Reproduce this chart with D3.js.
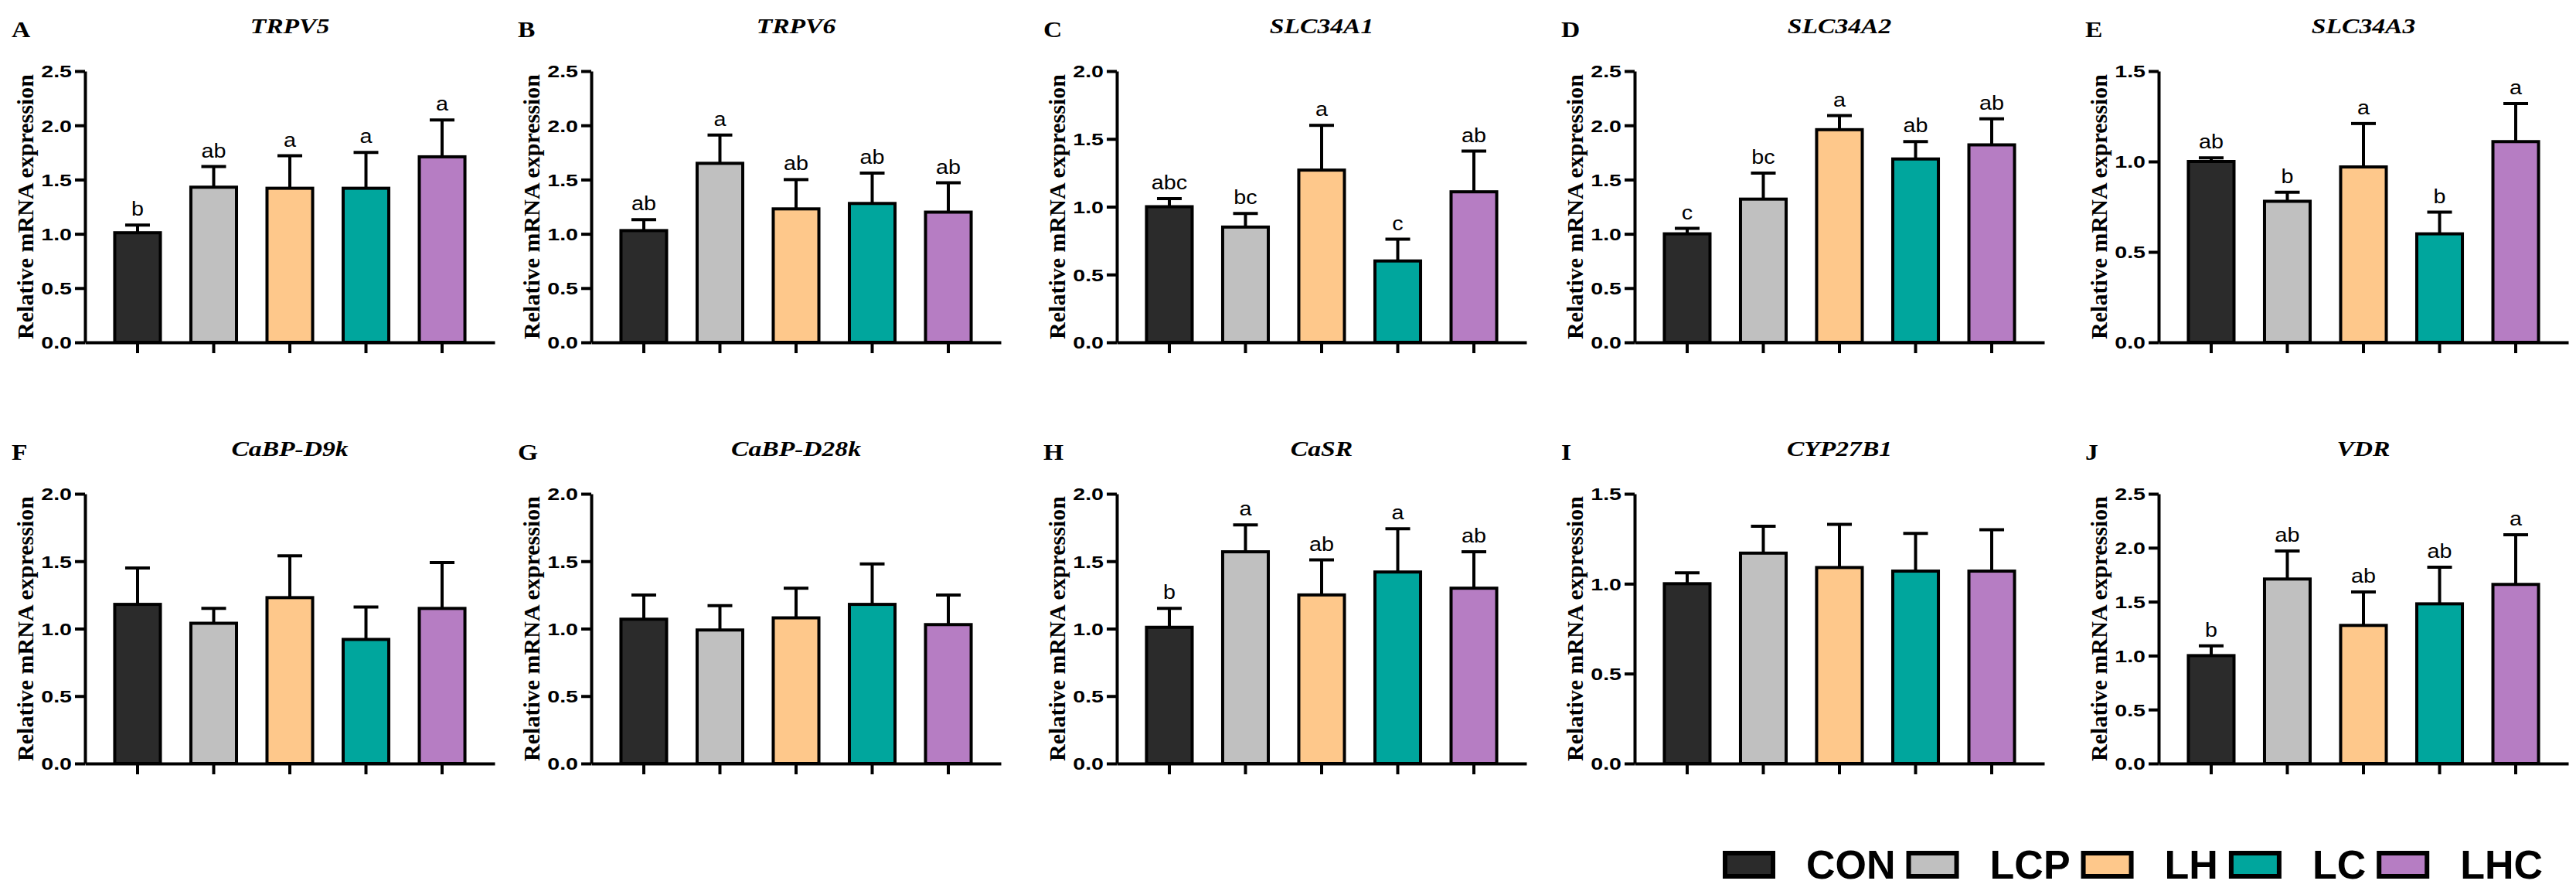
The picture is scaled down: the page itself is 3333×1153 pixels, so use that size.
<!DOCTYPE html>
<html><head><meta charset="utf-8">
<script src="https://cdn.jsdelivr.net/npm/d3@7"></script>
<style>html,body{margin:0;padding:0;background:#fff;}svg{display:block;}</style>
</head><body>
<script>
// ---------- data ----------
const groups = ["CON", "LCP", "LH", "LC", "LHC"];
const groupColors = ["#2b2b2b", "#c0c0c0", "#fec88b", "#00a69d", "#b67dc3"];
const panelLetters = ["A","B","C","D","E","F","G","H","I","J"];
const genes = ["TRPV5","TRPV6","SLC34A1","SLC34A2","SLC34A3","CaBP-D9k","CaBP-D28k","CaSR","CYP27B1","VDR"];
const yMax = [2.5, 2.5, 2.0, 2.5, 1.5, 2.0, 2.0, 2.0, 1.5, 2.5];
const yTickStep = 0.5;

const meanTRPV5   = [1.01, 1.43, 1.42, 1.42, 1.71];
const errTRPV5    = [0.07, 0.19, 0.30, 0.33, 0.34];
const meanTRPV6   = [1.03, 1.65, 1.23, 1.28, 1.20];
const errTRPV6    = [0.10, 0.26, 0.27, 0.28, 0.27];
const meanSLC34A1 = [1.00, 0.85, 1.27, 0.60, 1.11];
const errSLC34A1  = [0.06, 0.10, 0.33, 0.16, 0.30];
const meanSLC34A2 = [1.00, 1.32, 1.96, 1.69, 1.82];
const errSLC34A2  = [0.05, 0.24, 0.13, 0.16, 0.24];
const meanSLC34A3 = [1.00, 0.78, 0.97, 0.60, 1.11];
const errSLC34A3  = [0.02, 0.05, 0.24, 0.12, 0.21];
const meanCaBPD9k = [1.18, 1.04, 1.23, 0.92, 1.15];
const errCaBPD9k  = [0.27, 0.11, 0.31, 0.24, 0.34];
const meanCaBPD28k= [1.07, 0.99, 1.08, 1.18, 1.03];
const errCaBPD28k = [0.18, 0.18, 0.22, 0.30, 0.22];
const meanCaSR    = [1.01, 1.57, 1.25, 1.42, 1.30];
const errCaSR     = [0.14, 0.20, 0.26, 0.32, 0.27];
const meanCYP27B1 = [1.00, 1.17, 1.09, 1.07, 1.07];
const errCYP27B1  = [0.06, 0.15, 0.24, 0.21, 0.23];
const meanVDR     = [1.00, 1.71, 1.28, 1.48, 1.66];
const errVDR      = [0.09, 0.26, 0.31, 0.34, 0.46];

const sigTRPV5   = ["b","ab","a","a","a"];
const sigTRPV6   = ["ab","a","ab","ab","ab"];
const sigSLC34A1 = ["abc","bc","a","c","ab"];
const sigSLC34A2 = ["c","bc","a","ab","ab"];
const sigSLC34A3 = ["ab","b","a","b","a"];
const sigCaBPD9k = [];
const sigCaBPD28k= [];
const sigCaSR    = ["b","a","ab","a","ab"];
const sigCYP27B1 = [];
const sigVDR     = ["b","ab","ab","ab","a"];

const means = [meanTRPV5, meanTRPV6, meanSLC34A1, meanSLC34A2, meanSLC34A3, meanCaBPD9k, meanCaBPD28k, meanCaSR, meanCYP27B1, meanVDR];
const errs  = [errTRPV5, errTRPV6, errSLC34A1, errSLC34A2, errSLC34A3, errCaBPD9k, errCaBPD28k, errCaSR, errCYP27B1, errVDR];
const sigs  = [sigTRPV5, sigTRPV6, sigSLC34A1, sigSLC34A2, sigSLC34A3, sigCaBPD9k, sigCaBPD28k, sigCaSR, sigCYP27B1, sigVDR];
const yLabel = "Relative mRNA expression";

// ---------- layout ----------
const W = 3333, H = 1153;
const colX = [110, 765, 1445, 2115, 2793];   // y-axis x for each column
const rowTop = [92, 639], rowBottom = [443, 988];
const axisLen = 530;
const SERIF = "'Liberation Serif','Times New Roman',serif";
const SANS = "'Liberation Sans',Arial,Helvetica,sans-serif";

const svg = d3.select("body").append("svg").attr("width", W).attr("height", H);

function stretchedText(parent, x, y, txt, opts) {
  const g = parent.append("g").attr("transform", `translate(${x},${y}) scale(${opts.sx||1},1)`);
  return g.append("text").attr("x", 0).attr("y", 0)
    .attr("text-anchor", opts.anchor || "start")
    .attr("font-family", opts.family).attr("font-size", opts.size)
    .attr("font-weight", opts.weight || "normal")
    .attr("font-style", opts.style || "normal")
    .attr("dy", opts.dy || 0)
    .attr("fill", "#000").text(txt);
}

genes.forEach((gene, i) => {
  const row = Math.floor(i / 5), col = i % 5;
  const ax = colX[col];
  const top = rowTop[row], bot = rowBottom[row];
  const g = svg.append("g");

  const x = d3.scaleBand().domain(groups).range([ax, ax + axisLen]).paddingInner(0.36).paddingOuter(0.37);
  const y = d3.scaleLinear().domain([0, yMax[i]]).range([bot, top]);

  // bars
  const data = groups.map((grp, k) => ({grp, k, m: means[i][k], e: errs[i][k], s: sigs[i][k]}));
  const bw = x.bandwidth();
  g.selectAll("line.err").data(data).join("line")
    .attr("x1", d => x(d.grp) + bw / 2).attr("x2", d => x(d.grp) + bw / 2)
    .attr("y1", d => y(d.m)).attr("y2", d => y(d.m + d.e))
    .attr("stroke", "#000").attr("stroke-width", 4);
  g.selectAll("line.cap").data(data).join("line")
    .attr("x1", d => x(d.grp) + bw / 2 - 16).attr("x2", d => x(d.grp) + bw / 2 + 16)
    .attr("y1", d => y(d.m + d.e)).attr("y2", d => y(d.m + d.e))
    .attr("stroke", "#000").attr("stroke-width", 4);
  g.selectAll("rect").data(data).join("rect")
    .attr("x", d => x(d.grp) + 2).attr("width", bw - 4)
    .attr("y", d => y(d.m)).attr("height", d => y(0) - y(d.m))
    .attr("fill", d => groupColors[d.k]).attr("stroke", "#000").attr("stroke-width", 4);

  // significance letters
  data.filter(d => d.s).forEach(d => {
    stretchedText(g, x(d.grp) + bw / 2, y(d.m + d.e) - 12, d.s,
      {family: SANS, size: 25, anchor: "middle", sx: 1.15});
  });

  // axes
  const yAxis = d3.axisLeft(y).tickValues(d3.range(0, yMax[i] + 1e-9, yTickStep))
    .tickSize(13).tickSizeOuter(0).tickFormat(d3.format(".1f"));
  const ya = g.append("g").attr("transform", `translate(${ax},0)`).call(yAxis);
  ya.select(".domain").attr("stroke", "#000").attr("stroke-width", 4);
  ya.selectAll(".tick line").attr("stroke", "#000").attr("stroke-width", 4);
  ya.selectAll(".tick text")
    .attr("x", 0).attr("dy", "0.36em")
    .attr("transform", "translate(-17,0) scale(1.3,1)")
    .attr("font-family", SANS).attr("font-size", 22).attr("font-weight", "bold").attr("fill", "#000");

  const xAxis = d3.axisBottom(x).tickSize(14).tickSizeOuter(0).tickFormat("");
  const xa = g.append("g").attr("transform", `translate(0,${bot})`).call(xAxis);
  xa.select(".domain").attr("stroke", "#000").attr("stroke-width", 4);
  xa.selectAll(".tick line").attr("stroke", "#000").attr("stroke-width", 4);

  // y label
  g.append("text")
    .attr("transform", `translate(${ax - 67},${(top + bot) / 2}) rotate(-90)`)
    .attr("text-anchor", "middle").attr("font-family", SERIF).attr("font-size", 30)
    .attr("font-weight", "bold").text(yLabel);

  // title and panel letter
  stretchedText(g, ax + axisLen / 2, top - 49, gene,
    {family: SERIF, size: 28, weight: "bold", style: "italic", anchor: "middle", sx: 1.2});
  stretchedText(g, ax - 95, top - 44, panelLetters[i],
    {family: SERIF, size: 30, weight: "bold", anchor: "start", sx: 1.12});
});

// ---------- legend ----------
const leg = svg.append("g");
let lx = 2229;
const boxW = 62, boxH = 30, legBase = 1137, legFont = 52;
groups.forEach((grp, k) => {
  leg.append("rect").attr("x", lx + 3).attr("y", 1104).attr("width", boxW).attr("height", boxH)
    .attr("fill", groupColors[k]).attr("stroke", "#000").attr("stroke-width", 6);
  const t = leg.append("text").attr("x", lx + 108).attr("y", legBase)
    .attr("font-family", SANS).attr("font-size", legFont).attr("font-weight", "bold").text(grp);
  lx = lx + 108 + t.node().getComputedTextLength() + 14;
});
</script>
</body></html>
